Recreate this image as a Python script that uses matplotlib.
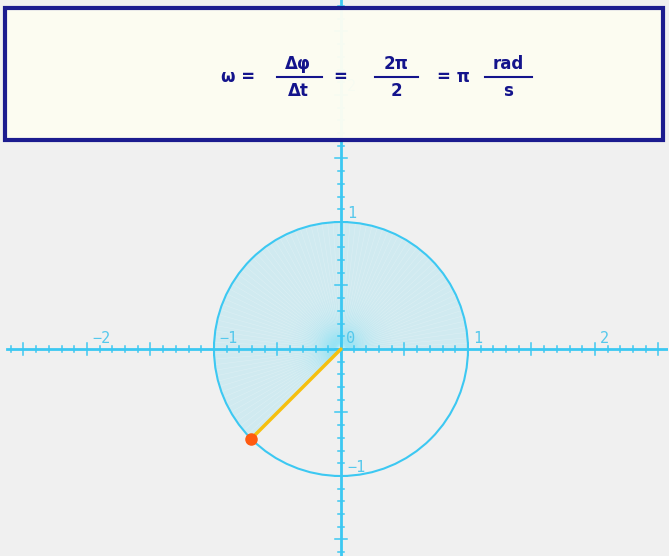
import numpy as np
import matplotlib
matplotlib.use("Agg")
from matplotlib import pyplot as plt
from matplotlib.patches import Circle, Wedge, Rectangle

# unit circle, point at phi = 5pi/4
radius = 1.0
phi = 5 * np.pi / 4
x_labels = [-2, -1, 0, 1, 2]
y_labels = [1, -1, 2]

CYAN = "#3cc8f2"
LABEL = "#55c8ec"
NAVY = "#14148c"

fig = plt.figure(figsize=(6.69, 5.56), dpi=100, facecolor="#f0f0f0")
ax = fig.add_axes([0, 0, 1, 1])
ax.set_facecolor("#f0f0f0")
ax.set_xlim(-2.675, 2.573)
ax.set_ylim(-1.63, 2.748)
ax.axis("off")

# shaded sector with radial gradient
wedge = Wedge((0, 0), radius, 0, np.degrees(phi), facecolor="none", edgecolor="none")
ax.add_patch(wedge)
gx, gy = np.meshgrid(np.linspace(-1, 1, 400), np.linspace(-1, 1, 400))
r = np.hypot(gx, gy)
img = np.zeros((400, 400, 4))
img[..., 0] = 0.0
img[..., 1] = 0.78
img[..., 2] = 0.95
img[..., 3] = 0.13 + 0.85 * np.exp(-r / 0.1)
im = ax.imshow(img, extent=(-1, 1, -1, 1), origin="lower", zorder=1, interpolation="bilinear")
im.set_clip_path(wedge)

# faint radial lines inside the sector
for a in np.linspace(0, phi, 90):
    ax.plot([0, radius * np.cos(a)], [0, radius * np.sin(a)], color="white", lw=0.4, alpha=0.25, zorder=2)

ax.add_patch(Circle((0, 0), radius, fill=False, edgecolor=CYAN, lw=1.5, zorder=3))

# axes with ticks
ax.plot([-2.63, 2.573], [0, 0], color=CYAN, lw=2, zorder=4)
ax.plot([0, 0], [-1.63, 2.748], color=CYAN, lw=2, zorder=4)
for t in np.arange(-2.6, 2.6, 0.1):
    h = 0.045 if abs(t * 2 - round(t * 2)) < 1e-6 else 0.02
    ax.plot([t, t], [-h, h], color=CYAN, lw=1.1, zorder=4)
for t in np.arange(-1.6, 2.75, 0.1):
    h = 0.045 if abs(t * 2 - round(t * 2)) < 1e-6 else 0.02
    ax.plot([-h, h], [t, t], color=CYAN, lw=1.1, zorder=4)

for v in x_labels:
    ax.text(v + 0.04, 0.02, str(v).replace("-", "\u2212"), color=LABEL, fontsize=11,
            ha="left", va="bottom", family="DejaVu Sans Mono", zorder=5)
for v in y_labels:
    ax.text(0.05, v + 0.01, str(v).replace("-", "\u2212"), color=LABEL, fontsize=11,
            ha="left", va="bottom", family="DejaVu Sans Mono", zorder=5)

# radius line and point
px, py = radius * np.cos(phi), radius * np.sin(phi)
ax.plot([0, px], [0, py], color="#f5c010", lw=2.5, zorder=6, solid_capstyle="round")
ax.plot(px, py, "o", color="#ff5a10", ms=8, zorder=7)

# formula box
W, H = 669, 556
def fx(x): return x / W
def fy(y): return 1 - y / H

box = Rectangle((fx(5), fy(140)), fx(663) - fx(5), fy(8) - fy(140), transform=fig.transFigure,
                facecolor="#fdfdf2", edgecolor=NAVY, lw=3, alpha=0.97, zorder=10)
fig.patches.append(box)

kw = dict(color=NAVY, fontsize=12, fontweight="bold", ha="center", va="center",
          family="DejaVu Sans", zorder=11)
fig.text(fx(238), fy(77), "\u03c9 =", **kw)
fig.text(fx(298), fy(64), "\u0394\u03c6", **kw)
fig.text(fx(298), fy(91), "\u0394t", **kw)
fig.text(fx(340), fy(77), "=", **kw)
fig.text(fx(396), fy(64), "2\u03c0", **kw)
fig.text(fx(396), fy(91), "2", **kw)
fig.text(fx(453), fy(77), "= \u03c0", **kw)
fig.text(fx(508), fy(64), "rad", **kw)
fig.text(fx(508), fy(91), "s", **kw)
for x0, x1 in [(277, 322), (375, 418), (485, 532)]:
    fig.add_artist(plt.Line2D([fx(x0), fx(x1)], [fy(77), fy(77)], transform=fig.transFigure,
                              color=NAVY, lw=1.5, zorder=11))

fig.savefig("out.png", dpi=100, facecolor=fig.get_facecolor())
